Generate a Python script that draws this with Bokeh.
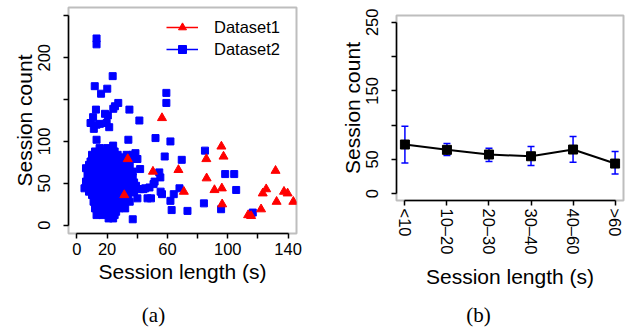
from bokeh.plotting import figure
from bokeh.layouts import row, column
from bokeh.models import (FixedTicker, Range1d, Legend, LegendItem,
                          Whisker, TeeHead, ColumnDataSource)
from bokeh.core.properties import value
from bokeh.embed import file_html
from bokeh.resources import INLINE

FONT = "Liberation Sans"
SERIF = "Liberation Serif"

# ---------------- panel (a) data ----------------
d1_x = [56.4, 33.7, 31.4, 50.4, 67.3, 70.9, 95.8, 97.2, 85.8, 86.0, 91.2, 96.1,
        96.3, 113.5, 115.5, 122.1, 123.2, 125.5, 131.7, 132.4, 137.3, 139.7, 143.5]
d1_y = [128, 79, 36, 64, 66, 40, 94, 82, 79, 56, 42, 44,
        25, 12, 11, 19, 38, 43, 65, 28, 40, 38, 28]

d2_x = [13, 13, 23.7, 11.8, 20.1, 16, 59.3, 59.3, 27.4, 25.2, 24.1, 34.8, 41.4,
        12.6, 18.6, 20.5, 10.7, 9, 11.2, 15.2, 19.7, 21.4, 13, 13, 34.1, 52.1,
        62, 58.2, 69.5, 84.9, 98.3, 104.3, 105.6, 95.6, 84.2, 116.6, 73.3, 62.8,
        62, 64.2, 68, 54.6, 55.3, 51.5, 55.5, 56.4, 41.9, 40.1, 37.4, 38.8, 37,
        37.9, 39.2, 41.9, 45.3, 48.1, 46.8, 49.1, 40.1, 37, 37.9, 29, 31.9, 29.2,
        44.1, 50.8,
        24, 15, 20,
        12, 17, 21, 25,
        10, 14, 19, 23, 27, 33, 37,
        11, 16, 22, 26, 30, 34,
        9, 13, 17, 21, 25, 28, 33,
        8, 12, 15, 19, 24, 27, 31, 35,
        6, 10, 14, 18, 22, 26, 30, 34,
        9, 13, 17, 21, 25, 29, 33, 37,
        7, 11, 15, 19, 23, 27, 31, 35,
        9, 13, 17, 21, 25, 29, 33,
        6, 10, 14, 18, 22, 26, 30, 34,
        8, 12, 16, 20, 24, 28, 32, 36,
        5, 9, 13, 17, 21, 25, 29, 33,
        8, 12, 16, 20, 24, 28, 32, 35,
        10, 14, 18, 22, 26, 30, 34,
        12, 16, 20, 24, 28, 32,
        11, 15, 19, 23, 27, 31, 35,
        13, 17, 21, 25, 29,
        12, 16, 20, 24, 28, 32,
        14, 18, 22, 26,
        13, 17, 21, 25,
        21, 24]
d2_y = [223, 216, 178, 166, 163, 157, 158, 146, 146, 142, 139, 138, 125,
        138, 133, 131, 129, 122, 115, 121, 122, 117, 120, 102, 102, 104,
        100, 82, 78, 89, 61, 61, 42, 19, 26, 15, 17, 18,
        29, 37, 44, 63, 57, 52, 40, 37, 67, 79, 79, 86, 57,
        51, 47, 43, 44, 45, 32, 32, 32, 7, 39, 81, 79, 75,
        43, 49,
        95, 92, 92,
        88, 88, 88, 88,
        84, 84, 84, 84, 84, 84, 84,
        80, 80, 80, 80, 80, 80,
        76, 76, 76, 76, 76, 76, 76,
        72, 72, 72, 72, 72, 72, 72, 72,
        68, 68, 68, 68, 68, 68, 68, 68,
        64, 64, 64, 64, 64, 64, 64, 64,
        60, 60, 60, 60, 60, 60, 60, 60,
        56, 56, 56, 56, 56, 56, 56,
        52, 52, 52, 52, 52, 52, 52, 52,
        48, 48, 48, 48, 48, 48, 48, 48,
        44, 44, 44, 44, 44, 44, 44, 44,
        40, 40, 40, 40, 40, 40, 40, 40,
        36, 36, 36, 36, 36, 36, 36,
        32, 32, 32, 32, 32, 32,
        28, 28, 28, 28, 28, 28, 28,
        24, 24, 24, 24, 24,
        20, 20, 20, 20, 20, 20,
        16, 16, 16, 16,
        12, 12, 12, 12,
        8, 8]

a_xticks = [0, 20, 40, 60, 80, 100, 120, 140]
a_xlabels = ["0", "20", "", "60", "", "100", "", "140"]
a_yticks = [0, 50, 100, 150, 200, 250]
a_ylabels = ["0", "50", "100", "", "200", ""]

# ---------------- panel (b) data ----------------
b_cats = ["<10", "10\u201320", "20\u201330", "30\u201340", "40\u201360", ">60"]
b_mean = [71.7, 63.9, 57.1, 54.6, 64.4, 43.9]
b_upper = [98.5, 73.2, 66.3, 68.8, 83.5, 61.5]
b_lower = [44.8, 55.6, 46.8, 41.0, 45.8, 28.7]
b_yticks = [0, 50, 100, 150, 200, 250]
b_ylabels = ["0", "50", "", "150", "", "250"]

captions = ["(a)", "(b)"]

W, H_MAIN, H_CAP = 317, 299, 30


def style_axis(ax, bounds, ticks, labels, orient, tick_size="16.5px",
               label_size="21px", mstand=5, lstand=5):
    ax.bounds = bounds
    ax.ticker = FixedTicker(ticks=ticks)
    ax.major_label_overrides = {t: l for t, l in zip(ticks, labels)}
    ax.axis_line_color = "black"
    ax.axis_line_width = 1.5
    ax.major_tick_line_color = "black"
    ax.major_tick_line_width = 1.5
    ax.major_tick_out = 5
    ax.major_tick_in = 0
    ax.minor_tick_out = 0
    ax.minor_tick_in = 0
    ax.major_label_text_font = FONT
    ax.major_label_text_font_size = tick_size
    ax.major_label_text_color = "black"
    ax.major_label_orientation = orient
    ax.major_label_standoff = mstand
    ax.axis_label_text_font = FONT
    ax.axis_label_text_font_size = label_size
    ax.axis_label_text_font_style = "normal"
    ax.axis_label_text_color = "black"
    ax.axis_label_standoff = lstand


def base_fig(xr, yr, bl, br, bt, bb):
    p = figure(width=W, height=H_MAIN, x_range=xr, y_range=yr,
               output_backend="svg", toolbar_location=None,
               min_border_left=bl, min_border_right=br,
               min_border_top=bt, min_border_bottom=bb)
    p.frame_align = False
    p.outline_line_color = "#BEBEBE"
    p.outline_line_width = 2
    p.xgrid.visible = False
    p.ygrid.visible = False
    p.background_fill_color = "white"
    p.border_fill_color = "white"
    return p


def caption_fig(text, cx):
    c = figure(width=W, height=H_CAP, x_range=Range1d(0, W), y_range=Range1d(H_CAP, 0),
               output_backend="svg", toolbar_location=None,
               x_axis_location=None, y_axis_location=None,
               min_border=0, min_border_left=0, min_border_right=0,
               min_border_top=0, min_border_bottom=0)
    c.frame_align = False
    c.outline_line_color = None
    c.xgrid.visible = False
    c.ygrid.visible = False
    c.text(x=[cx], y=[15], text=[text], text_font=value(SERIF),
           text_font_size="21px", text_color="black",
           text_align="center", text_baseline="middle")
    return c


# ---------------- panel (a) ----------------
p1 = base_fig(Range1d(-5.6, 145.6), Range1d(-10, 260), 68, 21, 7, H_MAIN - 233)
r2 = p1.scatter(d2_x, d2_y, marker="square", size=7, color="#0000FF")
r1 = p1.scatter(d1_x, d1_y, marker="triangle", size=9, color="#FF0000")
l1 = p1.line([-100, -90], [-100, -100], line_color="#FF0000", line_width=1.5)
l2 = p1.line([-100, -90], [-100, -100], line_color="#0000FF", line_width=1.5)
p1.xaxis.axis_label = "Session length (s)"
p1.yaxis.axis_label = "Session count"
style_axis(p1.xaxis[0], (0, 140), a_xticks, a_xlabels, "horizontal", mstand=4, lstand=2)
style_axis(p1.yaxis[0], (0, 250), a_yticks, a_ylabels, "vertical", mstand=13, lstand=0)

leg = Legend(items=[LegendItem(label="Dataset1", renderers=[l1, r1]),
                    LegendItem(label="Dataset2", renderers=[l2, r2])],
             location="top_right")
leg.border_line_color = None
leg.background_fill_alpha = 0
leg.margin = 10
leg.padding = 9
leg.glyph_width = 32
leg.glyph_height = 20
leg.label_height = 20
leg.label_width = 72
leg.spacing = 2
leg.label_standoff = 16
leg.label_text_font = FONT
leg.label_text_font_size = "16.5px"
leg.label_text_color = "black"
p1.add_layout(leg)

# ---------------- panel (b) ----------------
b_x = list(range(1, len(b_cats) + 1))
p2 = base_fig(Range1d(0.8, 6.2), Range1d(-10, 260), 79, 11, 15, H_MAIN - 200)
src = ColumnDataSource(dict(x=b_x, m=b_mean, up=b_upper, lo=b_lower))
wh = Whisker(base="x", upper="up", lower="lo", source=src,
             line_color="#0000FF", line_width=1.5, level="underlay",
             upper_head=TeeHead(size=7, line_color="#0000FF", line_width=1.5),
             lower_head=TeeHead(size=7, line_color="#0000FF", line_width=1.5))
p2.add_layout(wh)
p2.line("x", "m", source=src, line_color="black", line_width=2)
p2.scatter("x", "m", source=src, marker="square", size=9, color="black")
p2.xaxis.axis_label = "Session length (s)"
p2.yaxis.axis_label = "Session count"
style_axis(p2.xaxis[0], (1, 6), b_x, b_cats, "vertical", mstand=3, lstand=8)
style_axis(p2.yaxis[0], (0, 250), b_yticks, b_ylabels, "vertical", mstand=13, lstand=0)

c1 = caption_fig(captions[0], 153)
c2 = caption_fig(captions[1], 478 - W)

layout = column(row(p1, p2), row(c1, c2))
open("out.html", "w").write(file_html(layout, INLINE))
